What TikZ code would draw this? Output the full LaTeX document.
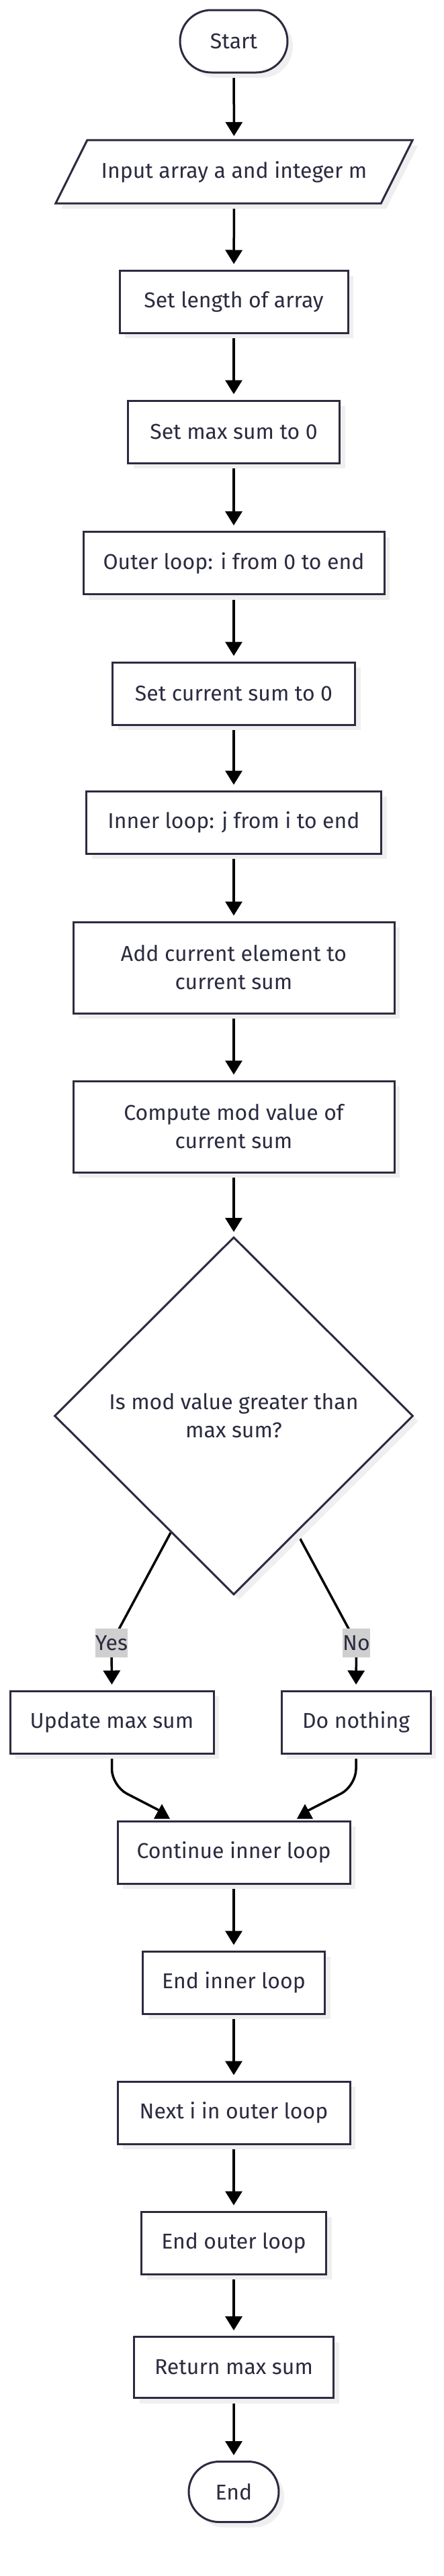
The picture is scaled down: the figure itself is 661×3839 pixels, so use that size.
\documentclass[tikz,border=0pt]{standalone}
\usepackage{fontspec}
\setmainfont{Fira Sans}
\usetikzlibrary{shapes.geometric,shapes.misc,arrows.meta,shadows,calc}
\definecolor{ink}{HTML}{2B2B40}
\definecolor{shd}{HTML}{EFEFEF}
\definecolor{lblbg}{HTML}{CFCFCF}
\pgfdeclarelayer{bg}
\pgfdeclarelayer{edges}
\pgfsetlayers{bg,edges,main}
\begin{document}
\begin{tikzpicture}[x=1pt,y=-1pt,
  every node/.style={font=\fontsize{32}{42}\selectfont, text=ink},
  shadowed/.style={drop shadow={shadow xshift=8pt, shadow yshift=-8pt, fill=shd, opacity=1}},
  proc/.style={rectangle, draw=ink, line width=3pt, fill=white, inner sep=0pt,
    minimum height=93pt, align=center, shadowed},
  term/.style={rounded rectangle, draw=ink, line width=3pt, fill=white, inner sep=0pt,
    minimum height=93pt, shadowed},
  decis/.style={diamond, aspect=1, draw=ink, line width=3pt, fill=white, inner sep=0pt,
    minimum width=534pt, minimum height=533pt, align=center, shadowed},
  lbl/.style={fill=lblbg, inner sep=0pt, minimum height=43pt},
  edge/.style={draw=black, line width=3.5pt},
  arr/.style={edge, -{Triangle[length=21pt,width=25pt]}, shorten >=8pt},
]
\begin{pgfonlayer}{bg}
\fill[white] (0,0) rectangle (661,3839);
\end{pgfonlayer}
\useasboundingbox (0,0) rectangle (661,3839);

% nodes
\node[term, minimum width=160pt] (start) at (348,61.5) {Start};
% parallelogram input
\fill[shd] (138,217) -- (622,217) -- (575,311) -- (91,311) -- cycle;
\node[inner sep=0pt, minimum width=484pt, minimum height=94pt] (inp) at (348.5,256) {Input array a and integer m};
\draw[ink, line width=3pt, fill=white, line join=miter]
  ($(inp.north west)+(23.5,0)$) -- ($(inp.north east)+(23.5,0)$) --
  ($(inp.south east)+(-23.5,0)$) -- ($(inp.south west)+(-23.5,0)$) -- cycle;
\node[inner sep=0pt] at (inp.center) {Input array a and integer m};

\node[proc, minimum width=340pt] (len) at (348,449.5) {Set length of array};
\node[proc, minimum width=315pt] (max0) at (348,643.5) {Set max sum to 0};
\node[proc, minimum width=448pt] (outer) at (348,839) {Outer loop: i from 0 to end};
\node[proc, minimum width=361pt] (cur0) at (348,1033.5) {Set current sum to 0};
\node[proc, minimum width=439pt] (inner) at (348,1225.5) {Inner loop: j from i to end};
\node[proc, minimum width=478pt, minimum height=136pt] (add) at (348,1442) {Add current element to\\current sum};
\node[proc, minimum width=478pt, minimum height=136pt] (mod) at (348,1679) {Compute mod value of\\current sum};
\node[decis] (dec) at (348,2110) {Is mod value greater than\\max sum?};
\node[proc, minimum width=303pt] (upd) at (166.5,2566.5) {Update max sum};
\node[proc, minimum width=222pt] (noth) at (530,2566.5) {Do nothing};
\node[proc, minimum width=346pt] (cont) at (348,2760.5) {Continue inner loop};
\node[proc, minimum width=271pt] (endin) at (348,2954.5) {End inner loop};
\node[proc, minimum width=346pt] (next) at (348,3148.5) {Next i in outer loop};
\node[proc, minimum width=275pt] (endout) at (348,3342.5) {End outer loop};
\node[proc, minimum width=297pt, minimum height=91pt] (ret) at (348,3528) {Return max sum};
\node[term, minimum width=134pt, minimum height=90pt] (end) at (348,3713.5) {End};

\node[lbl, minimum width=48pt] (yes) at (166,2448.5) {Yes};
\node[lbl, minimum width=37pt] (no) at (530.5,2448.5) {No};

\coordinate (ys) at ($(dec.west)!0.65!(dec.south)$);
\coordinate (ns) at ($(dec.east)!0.65!(dec.south)$);

% connectors
\begin{pgfonlayer}{edges}
\draw[arr, shorten >=6pt] (start) -- (inp);
\draw[arr] (inp) -- (len);
\draw[arr] (len) -- (max0);
\draw[arr] (max0) -- (outer);
\draw[arr] (outer) -- (cur0);
\draw[arr] (cur0) -- (inner);
\draw[arr] (inner) -- (add);
\draw[arr] (add) -- (mod);
\draw[arr, shorten >=6pt] (mod) -- (dec);
\draw[arr] (ys) -- (yes.center) -- (upd.north);
\draw[arr] (ns) -- (no.center) -- (noth.north);
\draw[edge, rounded corners=25pt] (upd.south) -- ++(0,47) -- ($(cont.north)+(-110,-14)$);
\draw[edge, rounded corners=25pt] (noth.south) -- ++(0,47) -- ($(cont.north)+(110,-14)$);
\draw[arr] (cont) -- (endin);
\draw[arr] (endin) -- (next);
\draw[arr] (next) -- (endout);
\draw[arr] (endout) -- (ret);
\draw[arr] (ret) -- (end);
\end{pgfonlayer}
% arrowheads of the merging connectors
\fill[black] ($(cont.north)+(-107,-24)$) -- ($(cont.north)+(-95,-2)$) -- ($(cont.north)+(-119,-2)$) -- cycle;
\fill[black] ($(cont.north)+(106,-24)$) -- ($(cont.north)+(118,-2)$) -- ($(cont.north)+(94,-2)$) -- cycle;
\end{tikzpicture}
\end{document}
